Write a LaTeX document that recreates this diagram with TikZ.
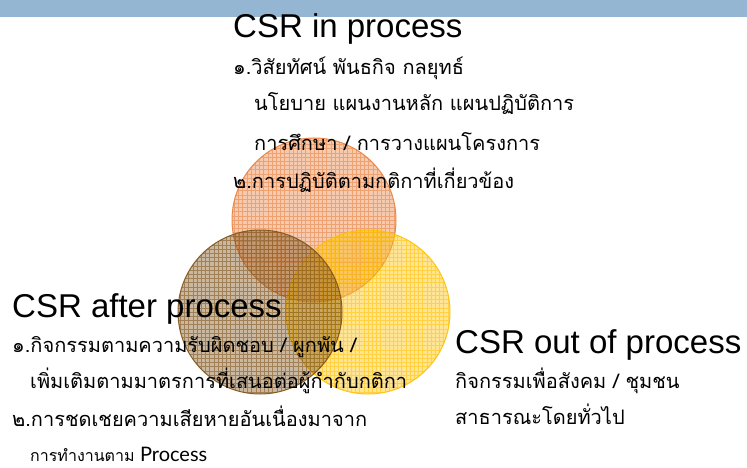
\documentclass[tikz,border=0pt]{standalone}
\usepackage{fontspec}
\setmainfont{Liberation Sans}
\newfontfamily\thaifont[Script=Thai]{Loma}
\newfontfamily\gillfont{Lato}
\usepackage{tikz}
\usetikzlibrary{positioning,shapes}
\definecolor{bandblue}{HTML}{94B6D2}
\definecolor{inorange}{HTML}{E8803E}
\definecolor{outyellow}{HTML}{FFC000}
\definecolor{afterbrown}{HTML}{7F531A}
\tikzset{%
	heading/.style  = {anchor=base west, inner sep=0pt, font=\fontsize{33}{36}\selectfont},
	thailine/.style = {anchor=base west, inner sep=0pt, font=\thaifont\fontsize{20}{24}\selectfont},
	venn/.style     = {circle, minimum size=164pt, inner sep=0pt, draw=#1, line width=1pt, fill=#1, fill opacity=0.42, draw opacity=0.9,
	                   path picture={\draw[#1, line width=0.5pt, opacity=0.55, step=4.2pt] (path picture bounding box.south west) grid (path picture bounding box.north east);}},
}
\begin{document}
\begin{tikzpicture}[x=1pt,y=-1pt]
	\useasboundingbox (0,0) rectangle (747,468);
	\fill[bandblue] (0,0) rectangle (747,17);  % top band
	% circles
	\node[venn=inorange] (incircle) at (314,220) {};
	\node[venn=outyellow] (outcircle) at (368,312) {};
	\node[venn=afterbrown] (aftercircle) at (260,312) {};
	% CSR in process
	\node[heading] (inhead) at (233,38) {CSR in process};
	\node[thailine] (inone) at (233,75) {๑.วิสัยทัศน์ พันธกิจ กลยุทธ์};
	\node[thailine] (intwo) at (254,111) {นโยบาย แผนงานหลัก แผนปฏิบัติการ};
	\node[thailine] (inthree) at (254,150) {การศึกษา / การวางแผนโครงการ};
	\node[thailine] (infour) at (233,188) {๒.การปฏิบัติตามกติกาที่เกี่ยวข้อง};
	% CSR after process
	\node[heading] (afterhead) at (12,317) {CSR after process};
	\node[thailine] (afterone) at (12,352) {๑.กิจกรรมตามความรับผิดชอบ / ผูกพัน /};
	\node[thailine] (aftertwo) at (30,388) {เพิ่มเติมตามมาตรการที่เสนอต่อผู้กำกับกติกา};
	\node[thailine] (afterthree) at (12,426) {๒.การชดเชยความเสียหายอันเนื่องมาจาก};
	\node[thailine, font=\thaifont\fontsize{16}{19}\selectfont] (afterfour) at (30,461) {การทำงานตาม {\gillfont\fontsize{20}{24}\selectfont Process}};
	% CSR out of process
	\node[heading] (outhead) at (455,353) {CSR out of process};
	\node[thailine] (outone) at (455,388) {กิจกรรมเพื่อสังคม / ชุมชน};
	\node[thailine] (outtwo) at (455,424) {สาธารณะโดยทั่วไป};
\end{tikzpicture}
\end{document}
